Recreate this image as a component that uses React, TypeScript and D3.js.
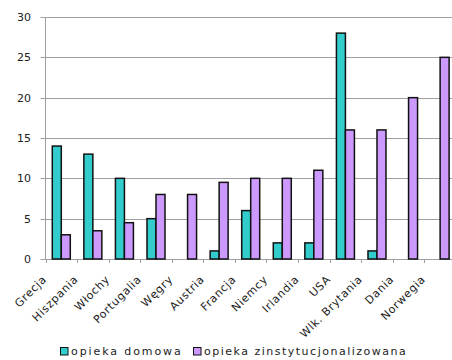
import React from "react";
import * as d3 from "d3";

const categories = ["Grecja", "Hiszpania", "Włochy", "Portugalia", "Węgry", "Austria", "Francja", "Niemcy", "Irlandia", "USA", "Wlk. Brytania", "Dania", "Norwegia"];
const homeCare = [14, 13, 10, 5, 0, 1, 6, 2, 2, 28, 1, 0, 0];
const instCare = [3, 3.5, 4.5, 8, 8, 9.5, 10, 10, 11, 16, 16, 20, 25];
const seriesNames = ["opieka domowa", "opieka zinstytucjonalizowana"];
const yTicks = [0, 5, 10, 15, 20, 25, 30];
const colors = ["#33CCCC", "#CC99FF"];

export default function App() {
  const W = 452, H = 360;
  const left = 45.5;
  const step = 31.57;
  const right = left + step * categories.length;
  const x0 = d3.scaleBand<string>().domain(categories).range([left, right]).paddingInner(0.43).paddingOuter(0.215);
  const x1 = d3.scaleBand<number>().domain([0, 1]).range([0, x0.bandwidth()]);
  const y = d3.scaleLinear().domain([0, 30]).range([259, 17]);
  const font = "'DejaVu Sans', Verdana, sans-serif";
  const series = [homeCare, instCare];
  const boundaries = d3.range(categories.length + 1).map(i => left + i * step);

  return (
    <svg width={W} height={H} style={{ position: "absolute", left: 0, top: 0, background: "#fff" }}>
      {yTicks.map(t => (
        <g key={t}>
          <line x1={left - 5} x2={W} y1={Math.round(y(t)) + 0.5} y2={Math.round(y(t)) + 0.5} stroke="#a0a0a0" strokeWidth={1} />
          <text x={31} y={y(t) + 4} textAnchor="end" fontFamily={font} fontSize={11} fill="#222">{t}</text>
        </g>
      ))}
      <line x1={left} x2={left} y1={y(30)} y2={y(0)} stroke="#a0a0a0" strokeWidth={1} />
      {boundaries.map((b, i) => (
        <line key={i} x1={Math.round(b) + 0.5} x2={Math.round(b) + 0.5} y1={y(0)} y2={y(0) + 4} stroke="#a0a0a0" />
      ))}
      {categories.map((c, i) => (
        <g key={c}>
          {series.map((s, k) => s[i] > 0 ? (
            <rect key={k} x={x0(c)! + x1(k)!} y={y(s[i])} width={x1.bandwidth()} height={y(0) - y(s[i])}
              fill={colors[k]} stroke="#111" strokeWidth={1.5} />
          ) : null)}
        </g>
      ))}
      {categories.map((c, i) => {
        const cx = x0(c)! + x0.bandwidth() / 2;
        const ax = cx - 14, ay = 280;
        return (
          <text key={c} x={ax} y={ay} textAnchor="end" transform={`rotate(-45 ${ax} ${ay})`}
            fontFamily={font} fontSize={11} fill="#222" letterSpacing={0.7}>{c}</text>
        );
      })}
      <g>
        <rect x={60.5} y={347.5} width={7.5} height={7.5} fill={colors[0]} stroke="#111" strokeWidth={1} />
        <text x={71} y={355} fontFamily={font} fontSize={11} fill="#222" letterSpacing={1.9}>{seriesNames[0]}</text>
        <rect x={193.5} y={347.5} width={7.5} height={7.5} fill={colors[1]} stroke="#111" strokeWidth={1} />
        <text x={204} y={355} fontFamily={font} fontSize={11} fill="#222" letterSpacing={1.5}>{seriesNames[1]}</text>
      </g>
    </svg>
  );
}
